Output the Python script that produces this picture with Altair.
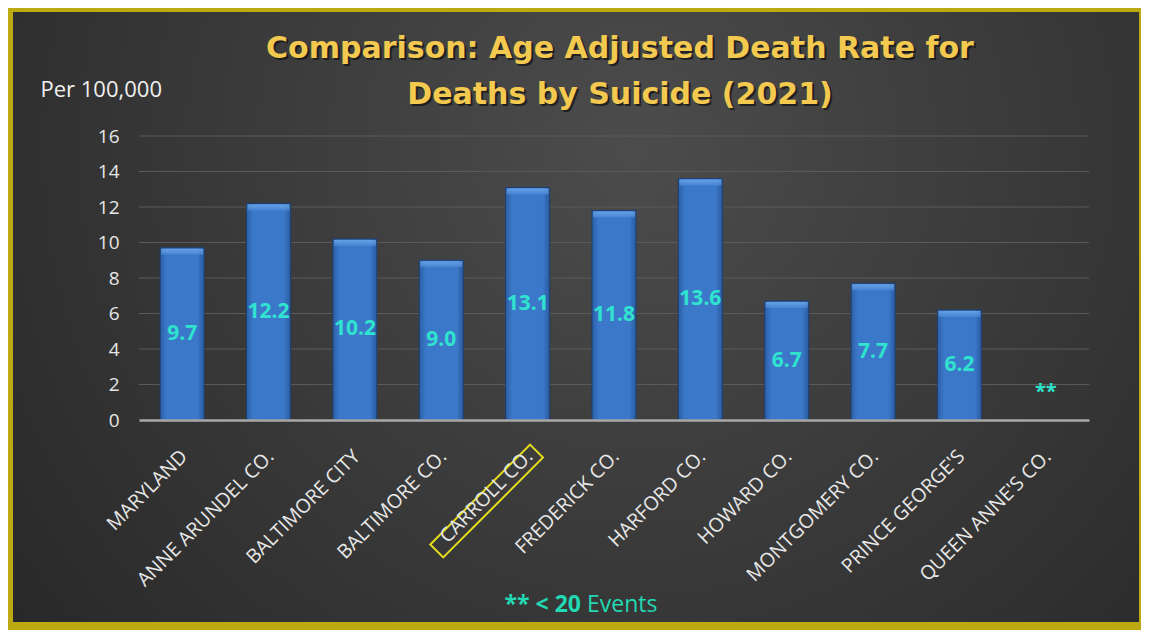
import altair as alt
import pandas as pd

categories = ["MARYLAND", "ANNE ARUNDEL CO.", "BALTIMORE CITY", "BALTIMORE CO.",
              "CARROLL CO.", "FREDERICK CO.", "HARFORD CO.", "HOWARD CO.",
              "MONTGOMERY CO.", "PRINCE GEORGE'S", "QUEEN ANNE'S CO."]
rates = [9.7, 12.2, 10.2, 9.0, 13.1, 11.8, 13.6, 6.7, 7.7, 6.2, None]
rate_labels = ["9.7", "12.2", "10.2", "9.0", "13.1", "11.8", "13.6", "6.7", "7.7", "6.2", ""]
suppressed_cat = ["QUEEN ANNE'S CO."]
suppressed_y = [1.6]
suppressed_text = ["**"]
highlight = ["CARROLL CO."]
y_ticks = [0, 2, 4, 6, 8, 10, 12, 14, 16]
grid_values = [2, 4, 6, 8, 10, 12, 14, 16]
title_lines = ["Comparison: Age Adjusted Death Rate for", "Deaths by Suicide (2021)"]

df = pd.DataFrame({"county": categories, "rate": rates, "label": rate_labels})
df_sup = pd.DataFrame({"county": suppressed_cat, "y": suppressed_y, "t": suppressed_text})
df_hi = pd.DataFrame({"county": highlight})
df_grid = pd.DataFrame({"v": grid_values})

W, H = 950, 284
FONT = "Open Sans"
CYAN = "#2fe3cf"
GOLD = "#f3c94f"

xscale = alt.Scale(domain=categories, paddingInner=0.49, paddingOuter=0.245)
yscale = alt.Scale(domain=[0, 16])

x_axis = alt.Axis(labelAngle=315, labelAlign="right", labelBaseline="middle",
                  labelPadding=33, labelOffset=2, labelFontSize=19.5,
                  labelColor="#e8e8e8", labelOverlap=False,
                  labelFont=FONT, ticks=False, domain=True,
                  domainColor="#a9a9a9", domainWidth=2.5, grid=False,
                  labelLimit=300, zindex=2)
y_axis = alt.Axis(values=y_ticks, labelFontSize=19, labelOverlap=False,
                  labelColor="#e6e6e6", labelFont=FONT, labelPadding=20,
                  ticks=False, domain=False, grid=False, zindex=2,
                  titleAngle=0, titleAlign="left", titleBaseline="alphabetic",
                  titleX=-99, titleY=-40, titleFontSize=22, titleFont=FONT,
                  titleFontWeight="normal", titleColor="#f0f0f0")

xpos = alt.X("county:N", scale=xscale, sort=categories, title=None, axis=x_axis)

def ypos(field):
    return alt.Y(field, scale=yscale, title="Per 100,000", axis=y_axis)

bg = alt.Chart(df_hi).mark_rect(
    fill=alt.RadialGradient(gradient="radial", x1=0.55, y1=0.35, r1=0, x2=0.55, y2=0.35, r2=0.8,
                            stops=[alt.GradientStop(offset=0, color="#4c4c4c"),
                                   alt.GradientStop(offset=1, color="#232323")]),
    clip=False
).encode(x=alt.value(-126), x2=alt.value(1000), y=alt.value(-124), y2=alt.value(486))

grid = alt.Chart(df_grid).mark_rule(color="#5a5a5a", strokeWidth=1.2).encode(
    y=ypos("v:Q"), x=alt.value(0), x2=alt.value(W))

bars = alt.Chart(df).mark_bar(
    fill=alt.LinearGradient(gradient="linear", x1=0, y1=0, x2=1, y2=0,
                            stops=[alt.GradientStop(offset=0, color="#2b5fa6"),
                                   alt.GradientStop(offset=0.15, color="#3b78c9"),
                                   alt.GradientStop(offset=0.85, color="#3b78c9"),
                                   alt.GradientStop(offset=1, color="#2a5a9e")]),
    stroke="#1d3f70", strokeWidth=1
).encode(x=xpos, y=ypos("rate:Q"))

bevel = alt.Chart(df).mark_tick(
    thickness=6, size=42, yOffset=4,
    color=alt.LinearGradient(gradient="linear", x1=0, y1=0, x2=0, y2=1,
                             stops=[alt.GradientStop(offset=0, color="#79b3f2"),
                                    alt.GradientStop(offset=1, color="#4a88d6")])
).encode(x=xpos, y=ypos("rate:Q"))

labels = alt.Chart(df).transform_calculate(mid="datum.rate / 2").mark_text(
    font=FONT, fontSize=21, fontWeight="bold", color=CYAN, baseline="middle"
).encode(x=xpos, y=ypos("mid:Q"), text="label:N")

sup = alt.Chart(df_sup).mark_text(
    font=FONT, fontSize=20, fontWeight="bold", color=CYAN, baseline="middle"
).encode(x=xpos, y=ypos("y:Q"), text="t:N")

box = alt.Chart(df_hi).mark_point(
    shape="M-1,-0.13L1,-0.13L1,0.13L-1,0.13Z", size=19900, angle=315,
    filled=False, stroke="#e6de1c", strokeWidth=2, xOffset=-41, opacity=1
).encode(x=xpos, y=alt.value(365))

foot1 = alt.Chart(df_hi).mark_text(
    font=FONT, fontSize=23, fontWeight="bold", color="#22d9b4", align="right",
    baseline="alphabetic"
).encode(x=alt.value(442), y=alt.value(476), text=alt.value("** < 20"))

foot2 = alt.Chart(df_hi).mark_text(
    font=FONT, fontSize=23, color="#22d9b4", align="left", baseline="alphabetic"
).encode(x=alt.value(448), y=alt.value(476), text=alt.value("Events"))

title_layers = []
for i, line in enumerate(title_lines):
    ty = -78 + 46 * i
    title_layers.append(alt.Chart(df_hi).mark_text(
        font="DejaVu Sans", fontSize=30, fontWeight="bold", color="#111111", opacity=0.7,
        align="center", baseline="alphabetic", dx=2, dy=2
    ).encode(x=alt.value(481), y=alt.value(ty), text=alt.value(line)))
    title_layers.append(alt.Chart(df_hi).mark_text(
        font="DejaVu Sans", fontSize=30, fontWeight="bold", color=GOLD,
        align="center", baseline="alphabetic"
    ).encode(x=alt.value(481), y=alt.value(ty), text=alt.value(line)))

chart = alt.layer(bg, grid, bars, bevel, labels, sup, box, foot1, foot2, *title_layers).properties(
    width=W, height=H,
    padding={"left": 131, "top": 128, "right": 52, "bottom": 210},
    autosize=alt.AutoSizeParams(type="none"),
    background="#bda912"
).configure_view(stroke=None)

chart.save("out.html", embed_options={"renderer": "svg", "actions": False})
